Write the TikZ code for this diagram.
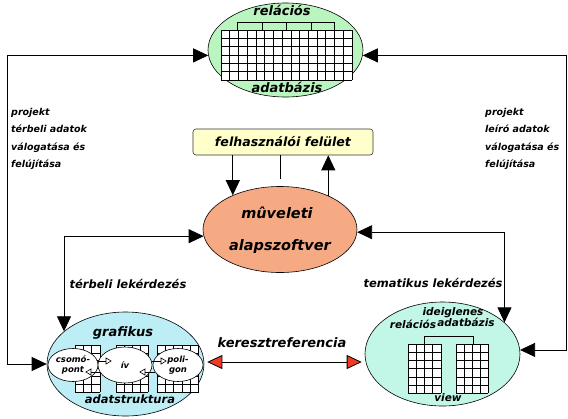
\documentclass[tikz,border=0pt]{standalone}
\usepackage{fontspec}
\setmainfont{DejaVu Sans}
\usetikzlibrary{arrows.meta,positioning,shapes.geometric}
\definecolor{dbgreen}{HTML}{BAF5C0}
\definecolor{grafcyan}{HTML}{BDEEF6}
\definecolor{viewmint}{HTML}{C2F6E6}
\definecolor{coresalmon}{HTML}{F5AA84}
\definecolor{uiyellow}{HTML}{FFFFCC}
\definecolor{xrefred}{HTML}{F03A24}
\newcommand{\cellgrid}[6]{%
  \fill[white] (#1,#2) rectangle ++({#3*#5},{#4*#6});
  \foreach \c in {0,...,#3}{\draw[gridline] ({#1+\c*#5},#2) -- ++(0,{#4*#6});}
  \foreach \r in {0,...,#4}{\draw[gridline] (#1,{#2+\r*#6}) -- ++({#3*#5},0);}
}
\tikzset{
  blob/.style={ellipse, draw=black, line width=0.6pt, inner sep=0pt},
  relbase/.style={blob, fill=dbgreen, minimum width=155pt, minimum height=94pt},
  core/.style={blob, fill=coresalmon, minimum width=154pt, minimum height=86pt},
  grafbase/.style={blob, fill=grafcyan, minimum width=157pt, minimum height=104pt},
  tempbase/.style={blob, fill=viewmint, minimum width=155pt, minimum height=104pt},
  part/.style={blob, fill=white, minimum width=50pt, minimum height=33pt,
    align=center, font=\fontsize{8.5}{9.5}\selectfont\bfseries\itshape},
  uibox/.style={draw=black!80, fill=uiyellow, rounded corners=3pt, line width=0.6pt,
    minimum width=180pt, minimum height=26pt, inner sep=0pt,
    font=\fontsize{12.6}{14}\selectfont\bfseries\itshape},
  title/.style={inner sep=0pt, font=\fontsize{13}{15}\selectfont\bfseries\itshape},
  coretext/.style={inner sep=0pt, font=\fontsize{14.5}{17}\selectfont\bfseries\itshape},
  query/.style={inner sep=0pt, font=\fontsize{11.5}{13}\selectfont\bfseries\itshape},
  small/.style={inner sep=0pt, font=\fontsize{10.5}{12}\selectfont\bfseries\itshape},
  sidenote/.style={inner sep=0pt, align=left,
    font=\fontsize{9.5}{17.5}\selectfont\bfseries\itshape},
  gridline/.style={line width=0.6pt},
  arrow/.style={-{Triangle[length=15pt,width=14pt]}, line width=0.8pt},
  twoway/.style={{Triangle[length=15pt,width=14pt]}-{Triangle[length=15pt,width=14pt]},
    line width=0.8pt},
  xref/.style={{Triangle[length=15pt,width=14pt,fill=xrefred]}-{Triangle[length=15pt,width=14pt,fill=xrefred]},
    line width=0.8pt},
  smalltip/.style={-{Triangle[length=6pt,width=7pt,fill=white]}, line width=0.6pt},
  plain/.style={line width=0.8pt},
}
\begin{document}
\begin{tikzpicture}[x=1pt, y=-1pt]
\useasboundingbox (0,0) rectangle (568,418);

% main shapes
\node[relbase] (rel) at (285.5,50) {};
\node[core] (muv) at (280,229.5) {};
\node[grafbase] (graf) at (125.5,364) {};
\node[tempbase] (ideig) at (442.5,354) {};
\node[uibox] (ui) at (283,142) {felhasználói felület};

% relational database
\node[title] (reltop) at (282,10) {relációs};
\node[title] (relbot) at (287,87) {adatbázis};
\cellgrid{221}{30}{15}{6}{8.73}{8.33}
\draw[gridline] (237,30) -- (237,22) -- (334,22) -- (334,30);
\foreach \x in {262,286,311} {\draw[gridline] (\x,22) -- (\x,30);}

% core software
\node[coretext] (muvtop) at (277,213) {mûveleti};
\node[coretext] (muvbot) at (280,246) {alapszoftver};

% graphic data structure
\node[title] (graftop) at (123,333) {grafikus};
\node[query] (grafbot) at (130,399) {adatstruktura};
\cellgrid{75}{345}{3}{6}{8.3}{7.8}
\cellgrid{116}{345}{4}{6}{8}{7.8}
\cellgrid{157}{345}{5}{6}{8.3}{7.8}
\node[part] (csomo) at (73,365) {csomó-\\pont};
\node[part, minimum width=54pt, minimum height=36pt] (iv) at (125,365) {ív};
\node[part] (poli) at (178,365) {poli-\\gon};
\draw[smalltip] ([yshift=4pt]csomo.east) -- ([xshift=14pt,yshift=4pt]iv.west);
\draw[smalltip] ([xshift=2pt,yshift=-7pt]iv.west) -- ([xshift=-13pt,yshift=-7pt]csomo.east);
\draw[smalltip] ([yshift=4pt]iv.east) -- ([xshift=14pt,yshift=4pt]poli.west);
\draw[smalltip] ([xshift=2pt,yshift=-7pt]poli.west) -- ([xshift=-13pt,yshift=-7pt]iv.east);

% temporary relational database
\node[small] (ideigtop) at (453,313) {ideiglenes};
\node[small] (ideigrel) at (413,324) {relációs};
\node[small] (ideigdb) at (466,322) {adatbázis};
\cellgrid{408}{344}{4}{6}{8.25}{8.2}
\cellgrid{456}{344}{4}{6}{8.1}{8.2}
\draw[gridline] (424,344) -- (424,336) -- (473,336) -- (473,344);
\node[small] (view) at (448,398) {view};

% connectors
\coordinate (lside) at (7,0);
\coordinate (rside) at (566,0);
\draw[twoway] (rel.184) -| (lside |- graf.west) -- (graf.west);
\draw[twoway] (rel.356) -| (rside |- ideig.3) -- (ideig.3);
\draw[arrow] (ui.south -| muv.144) -- (muv.144);
\draw[plain, shorten >=7.5pt] ([xshift=-3pt]ui.south) -- ([xshift=-3pt]ui.south |- muv.north);
\draw[arrow] (muv.35) -- (muv.35 |- ui.south);
\draw[twoway] (graf.152) |- (muv.185);
\draw[twoway] (ideig.27) |- (muv.358);
\draw[xref, shorten <=3pt, shorten >=3pt] ([yshift=2pt]graf.east) -- ([yshift=2pt]graf.east -| ideig.west);

% labels
\node[query] (terbeli) at (128,284) {térbeli lekérdezés};
\node[query] (tematikus) at (433,283) {tematikus lekérdezés};
\node[title] (kereszt) at (282,343) {keresztreferencia};
\node[sidenote, anchor=north west] (projl) at (11,108) {projekt\\térbeli adatok\\válogatása és\\felújítása};
\node[sidenote, anchor=north west] (projr) at (485,108) {projekt\\leíró adatok\\válogatása és\\felújítása};

\end{tikzpicture}
\end{document}
